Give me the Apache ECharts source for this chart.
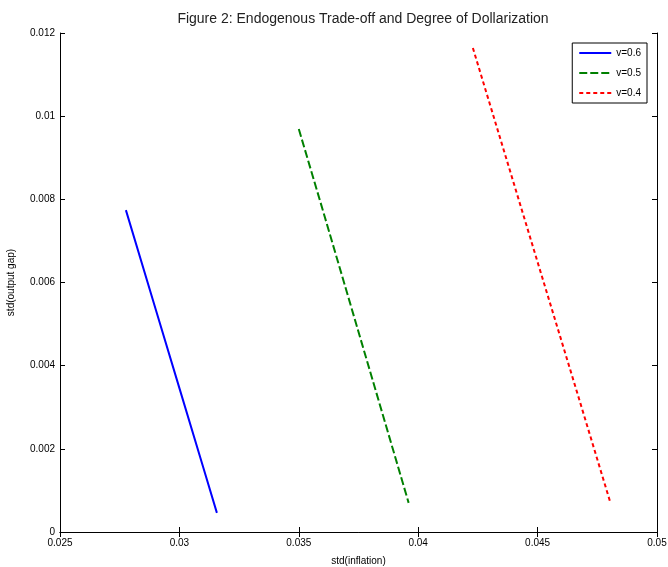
<!DOCTYPE html>
<html>
<head>
<meta charset="utf-8">
<script src="https://cdn.jsdelivr.net/npm/echarts@6/dist/echarts.min.js"></script>
<style>
  html, body { margin: 0; padding: 0; background: #fff; }
  #chart { width: 668px; height: 567px; }
</style>
</head>
<body>
<div id="chart"></div>
<script>
// values
const seriesNames = ['v=0.6', 'v=0.5', 'v=0.4'];
const inflation06 = [0.02776, 0.0290, 0.0300, 0.0310, 0.03157];
const outputGap06 = [0.00774, 0.00537, 0.00346, 0.00155, 0.00046];
const inflation05 = [0.0350, 0.0360, 0.0372, 0.0384, 0.0396];
const outputGap05 = [0.00969, 0.00775, 0.00540, 0.00305, 0.00070];
const inflation04 = [0.04229, 0.0436, 0.0450, 0.0466, 0.04804];
const outputGap04 = [0.01164, 0.00915, 0.00649, 0.00346, 0.00072];

const font = 'Liberation Sans, Arial, sans-serif';
const zip = (xs, ys) => xs.map((x, i) => [x, ys[i]]);

const xBase = { type: 'value', min: 0.025, max: 0.05, interval: 0.005 };
const yBase = { type: 'value', min: 0, max: 0.012, interval: 0.002 };
const lineAxis = { show: true, lineStyle: { color: '#000', width: 1 } };
const tickIn = { show: true, inside: true, length: 5, lineStyle: { color: '#000' } };

const chart = echarts.init(document.getElementById('chart'));
chart.setOption({
  animation: false,
  title: {
    text: 'Figure 2: Endogenous Trade-off and Degree of Dollarization',
    left: 358,
    textAlign: 'center',
    top: 7,
    textStyle: { fontFamily: font, fontSize: 14, fontWeight: 'normal', color: '#222' }
  },
  legend: {
    orient: 'vertical',
    right: 21,
    top: 43,
    data: seriesNames,
    itemWidth: 32,
    itemHeight: 10,
    itemGap: 10,
    padding: [5, 6, 5, 6],
    borderColor: '#000',
    borderWidth: 1,
    backgroundColor: '#fff',
    itemStyle: { opacity: 0 },
    textStyle: { fontFamily: font, fontSize: 10, color: '#000' }
  },
  grid: { left: 60, right: 11, top: 33, bottom: 35, outerBoundsMode: 'none' },
  xAxis: [
    Object.assign({}, xBase, {
      position: 'bottom',
      name: 'std(inflation)',
      nameLocation: 'middle',
      nameGap: 24,
      nameTextStyle: { fontFamily: font, fontSize: 10, color: '#000' },
      axisLine: lineAxis,
      axisTick: tickIn,
      splitLine: { show: false },
      axisLabel: { fontFamily: font, fontSize: 10, color: '#000', margin: 6, showMaxLabel: true, showMinLabel: true }
    }),
    Object.assign({}, xBase, {
      position: 'top',
      axisLine: lineAxis,
      axisTick: tickIn,
      splitLine: { show: false },
      axisLabel: { show: false }
    })
  ],
  yAxis: [
    Object.assign({}, yBase, {
      position: 'left',
      name: 'std(output gap)',
      nameLocation: 'middle',
      nameGap: 44,
      nameTextStyle: { fontFamily: font, fontSize: 10, color: '#000' },
      axisLine: lineAxis,
      axisTick: tickIn,
      splitLine: { show: false },
      axisLabel: { fontFamily: font, fontSize: 10, color: '#000', margin: 5 }
    }),
    Object.assign({}, yBase, {
      position: 'right',
      axisLine: lineAxis,
      axisTick: tickIn,
      splitLine: { show: false },
      axisLabel: { show: false }
    })
  ],
  series: [
    {
      name: seriesNames[0], type: 'line', symbol: 'none',
      data: zip(inflation06, outputGap06),
      lineStyle: { color: '#0000ff', width: 2, type: 'solid' },
      itemStyle: { color: '#0000ff' }
    },
    {
      name: seriesNames[1], type: 'line', symbol: 'none',
      data: zip(inflation05, outputGap05),
      lineStyle: { color: '#008000', width: 2, type: [8, 3] },
      itemStyle: { color: '#008000' }
    },
    {
      name: seriesNames[2], type: 'line', symbol: 'none',
      data: zip(inflation04, outputGap04),
      lineStyle: { color: '#ff0000', width: 2, type: [4, 3] },
      itemStyle: { color: '#ff0000' }
    }
  ]
});
</script>
</body>
</html>
